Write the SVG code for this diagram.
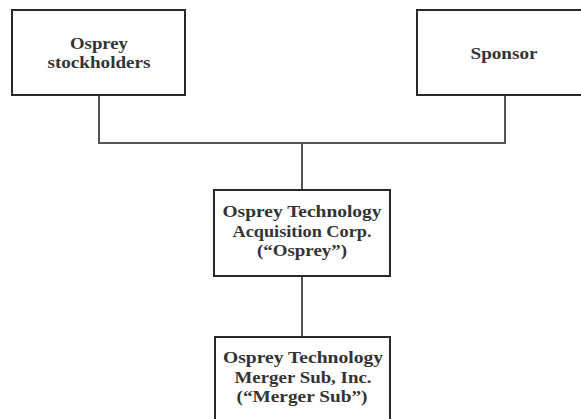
<svg xmlns="http://www.w3.org/2000/svg" width="581" height="419" viewBox="0 0 581 419">
<style>
.box{fill:#fff;stroke:#2a2a2a;stroke-width:2}
.t{font-family:"Liberation Serif","Times New Roman",serif;font-weight:bold;font-size:17.5px;fill:#333;text-anchor:middle}
.c{fill:none;stroke:#555;stroke-width:2}
</style>
<rect width="581" height="419" fill="#fff"/>
<g id="connectors">
<path class="c" d="M99 95V143H505V95"/>
<path class="c" d="M302 143V190"/>
<path class="c" d="M302 276V337"/>
</g>
<g id="osprey-stockholders">
<rect class="box" x="12" y="10" width="173" height="85"/>
<text class="t" x="99" y="49" textLength="58" lengthAdjust="spacingAndGlyphs">Osprey</text>
<text class="t" x="99" y="68" textLength="103" lengthAdjust="spacingAndGlyphs">stockholders</text>
</g>
<g id="sponsor">
<rect class="box" x="417" y="10" width="170" height="85"/>
<text class="t" x="504" y="59" textLength="67" lengthAdjust="spacingAndGlyphs">Sponsor</text>
</g>
<g id="osprey">
<rect class="box" x="214" y="190" width="176" height="86"/>
<text class="t" x="302" y="217" textLength="159" lengthAdjust="spacingAndGlyphs">Osprey Technology</text>
<text class="t" x="302" y="237" textLength="139" lengthAdjust="spacingAndGlyphs">Acquisition Corp.</text>
<text class="t" x="302" y="256" textLength="90" lengthAdjust="spacingAndGlyphs">(“Osprey”)</text>
</g>
<g id="merger-sub">
<rect class="box" x="215" y="337" width="175" height="90"/>
<text class="t" x="303" y="363" textLength="160" lengthAdjust="spacingAndGlyphs">Osprey Technology</text>
<text class="t" x="303" y="383" textLength="137" lengthAdjust="spacingAndGlyphs">Merger Sub, Inc.</text>
<text class="t" x="302" y="402" textLength="131" lengthAdjust="spacingAndGlyphs">(“Merger Sub”)</text>
</g>
</svg>
